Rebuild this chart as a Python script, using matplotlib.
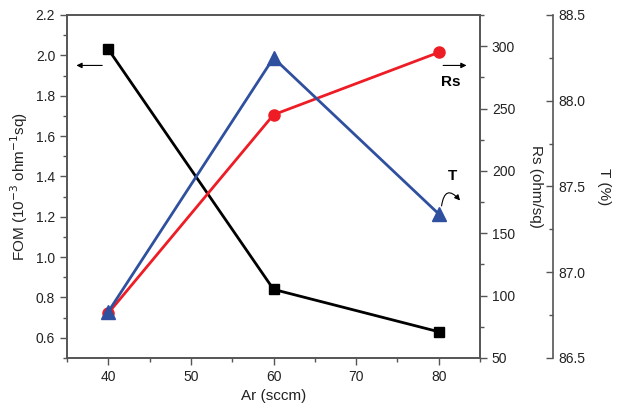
import matplotlib.pyplot as plt
from matplotlib.ticker import MultipleLocator

plt.rcParams['font.family'] = ['Liberation Sans', 'DejaVu Sans']

# data
ar = [40, 60, 80]
fom = [2.03, 0.84, 0.63]
rs = [86, 245, 295]
trans = [86.77, 88.25, 87.34]

black = '#000000'
red = '#ee1c25'
blue = '#2f4f9f'
grey = '#555555'

fig = plt.figure(figsize=(6.17, 4.13), dpi=100)
ax = fig.add_axes([0.1086, 0.1332, 0.6694, 0.8305])
ax2 = ax.twinx()
ax3 = ax.twinx()
ax3.spines['right'].set_position(('axes', 1.177))

ax.plot(ar, fom, color=black, lw=2, marker='s', ms=7, zorder=3)
ax2.plot(ar, rs, color=red, lw=2, marker='o', ms=8, zorder=3)
ax3.plot(ar, trans, color=blue, lw=2, marker='^', ms=10, zorder=3)

ax.set_xlim(35, 85)
ax.set_ylim(0.5, 2.2)
ax2.set_ylim(50, 325)
ax3.set_ylim(86.5, 88.5)

ax.xaxis.set_major_locator(MultipleLocator(10))
ax.xaxis.set_minor_locator(MultipleLocator(5))
ax.yaxis.set_major_locator(MultipleLocator(0.2))
ax.yaxis.set_minor_locator(MultipleLocator(0.1))
ax2.yaxis.set_major_locator(MultipleLocator(50))
ax2.yaxis.set_minor_locator(MultipleLocator(25))
ax3.yaxis.set_major_locator(MultipleLocator(0.5))
ax3.yaxis.set_minor_locator(MultipleLocator(0.25))
ax.yaxis.set_major_formatter(plt.FormatStrFormatter('%.1f'))
ax3.yaxis.set_major_formatter(plt.FormatStrFormatter('%.1f'))

for a in (ax, ax2, ax3):
    for s in a.spines.values():
        s.set_color(grey)
        s.set_linewidth(1.2)
    a.tick_params(which='both', colors=grey, labelcolor='#222222', labelsize=10, width=1)
    a.tick_params(which='major', length=5)
    a.tick_params(which='minor', length=3)
ax3.spines['top'].set_visible(False)
ax3.spines['left'].set_visible(False)
ax3.spines['bottom'].set_visible(False)
ax3.tick_params(axis='y', which='both', direction='in')

ax.set_xlabel('Ar (sccm)', fontsize=11, color='#222222')
ax.set_ylabel('FOM (10$^{-3}$ ohm$^{-1}$sq)', fontsize=11, color='#222222')
ax2.set_ylabel('Rs (ohm/sq)', fontsize=11, color='#222222', rotation=270, labelpad=20)
ax3.set_ylabel('T (%)', fontsize=11, color='#222222', rotation=270, labelpad=19)

# series markers: arrows and labels
ax.annotate('', xy=(35.8, 1.95), xytext=(39.6, 1.95),
            arrowprops=dict(arrowstyle='-|>', color=black, lw=0.8, mutation_scale=8))
ax.annotate('', xy=(83.7, 1.95), xytext=(80.2, 1.95),
            arrowprops=dict(arrowstyle='-|>', color=black, lw=0.8, mutation_scale=8))
ax.text(81.5, 1.87, 'Rs', fontsize=11, fontweight='bold', ha='center', va='center')
ax.text(81.7, 1.40, 'T', fontsize=11, fontweight='bold', ha='center', va='center')
ax.annotate('', xy=(82.8, 1.27), xytext=(80.3, 1.24),
            arrowprops=dict(arrowstyle='-|>', color=black, lw=0.8, mutation_scale=8,
                            connectionstyle='arc3,rad=-1.2'))

fig.savefig('out.png', dpi=100)
